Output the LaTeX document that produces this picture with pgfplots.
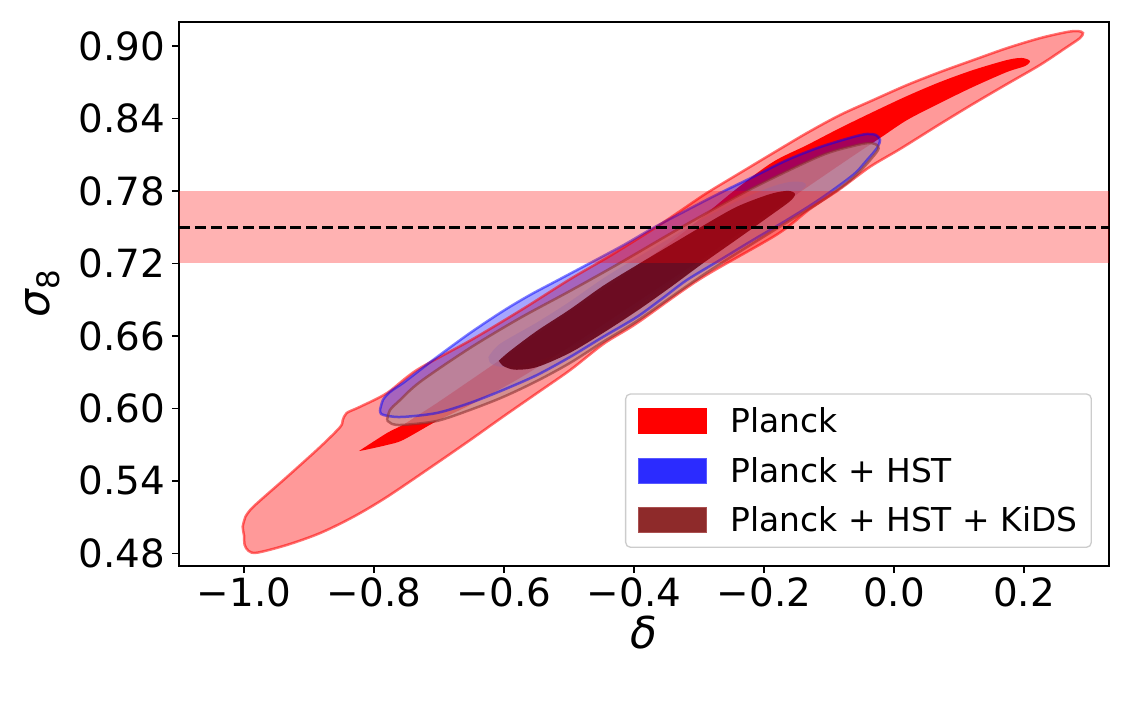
\documentclass[border=0pt]{standalone}
\usepackage{pgfplots}
\pgfplotsset{compat=1.18}
\usepackage{fontspec}
\setmainfont{DejaVu Sans}

\definecolor{kidsout}{RGB}{198,140,140}
\definecolor{kidsin}{RGB}{100,0,20}
\definecolor{kidsedge}{RGB}{140,50,50}
\definecolor{kidsleg}{RGB}{142,42,42}
\definecolor{kidslegedge}{RGB}{170,80,80}

\begin{document}
\begin{tikzpicture}
\path[use as bounding box] (0,0) rectangle (1132bp,703bp);
\begin{axis}[
  at={(179bp,137bp)}, anchor=south west,
  scale only axis, width=930bp, height=544bp,
  xmin=-1.1, xmax=0.3308, ymin=0.4695, ymax=0.9199,
  xtick={-1,-0.8,-0.6,-0.4,-0.2,0,0.2},
  xticklabels={−1.0,−0.8,−0.6,−0.4,−0.2,0.0,0.2},
  ytick={0.48,0.54,0.60,0.66,0.72,0.78,0.84,0.90},
  yticklabels={0.48,0.54,0.60,0.66,0.72,0.78,0.84,0.90},
  tick align=outside, xtick pos=bottom, ytick pos=left,
  major tick length=7bp,
  every tick/.style={black, line width=1.6bp},
  axis line style={line width=1.6bp},
  tick label style={font=\fontsize{39}{47}\selectfont},
  xticklabel style={inner sep=4bp},
  yticklabel style={inner sep=7bp},
  xlabel={\itshape δ},
  ylabel={{\itshape σ}\raisebox{-0.22em}{\fontsize{31}{31}\selectfont 8}},
  label style={font=\fontsize{44}{52}\selectfont},
  xlabel style={at={(axis description cs:0.5,-0.091)}, anchor=north, inner sep=0pt},
  ylabel style={at={(axis description cs:-0.128,0.5)}, anchor=south, inner sep=0pt},
  legend image code/.code={\filldraw[sharp corners, #1] (0bp,-12.5bp) rectangle (68bp,12.5bp);},
  legend style={
    at={(axis description cs:0.9817,0.0331)}, anchor=south east,
    draw=black!20, line width=1.3bp, rounded corners=5bp, fill=white,
    font=\fontsize{33}{40}\selectfont,
    inner xsep=12bp, inner ysep=12bp, row sep=19bp,
    nodes={inner sep=2bp},
    /tikz/every odd column/.append style={column sep=22bp},
  },
  legend cell align=left,
]

% ---------- filled regions ----------
% Planck, 95% region
\addplot[fill=red, fill opacity=0.4, draw=none, smooth, forget plot] coordinates {
(-0.998,0.510) (-1.002,0.502) (-1.000,0.495) (-0.999,0.487) (-0.993,0.482) (-0.980,0.4805)
(-0.934,0.4869) (-0.883,0.4967) (-0.832,0.5101) (-0.780,0.5267)
(-0.703,0.5548) (-0.652,0.5738) (-0.602,0.5929) (-0.549,0.6127) (-0.498,0.6318) (-0.446,0.6537)
(-0.395,0.6707) (-0.2985,0.7071) (-0.18,0.744) (-0.1292,0.7651) (-0.0831,0.7816) (-0.0369,0.8)
(0.0092,0.8147) (0.0708,0.8354) (0.1215,0.852) (0.1738,0.8685) (0.2246,0.8843) (0.2662,0.8992)
(0.2862,0.9066) (0.2908,0.9108)
(0.283,0.9124) (0.266,0.9116) (0.225,0.9066) (0.174,0.8983) (0.122,0.8884) (0.071,0.8785)
(0.020,0.8677) (-0.032,0.8553) (-0.083,0.8429) (-0.134,0.828) (-0.186,0.8114) (-0.237,0.7949)
(-0.288,0.7783) (-0.329,0.7634) (-0.368,0.7493) (-0.437,0.7262) (-0.498,0.7071) (-0.571,0.6823)
(-0.648,0.6574) (-0.734,0.6318) (-0.780,0.6127) (-0.822,0.6012) (-0.842,0.5962) (-0.848,0.5904)
(-0.852,0.5846) (-0.883,0.568) (-0.934,0.5432) (-0.986,0.5184) (-0.998,0.510)
} -- cycle;

% Planck, 68% region
\addplot[fill=red, draw=none, smooth, forget plot] coordinates {
(-0.8231,0.5647) (-0.78,0.5796) (-0.7554,0.5863) (-0.7292,0.5954) (-0.6985,0.6061) (-0.6062,0.6401)
(-0.5138,0.6748) (-0.4215,0.7079) (-0.3292,0.7435) (-0.2446,0.7808) (-0.1862,0.804) (-0.1338,0.818)
(-0.0831,0.8321) (-0.0323,0.8454) (0.02,0.8586) (0.0708,0.8702) (0.1215,0.8801) (0.1738,0.8884)
(0.1969,0.8901) (0.2092,0.8876) (0.2015,0.8834) (0.1738,0.8785) (0.1215,0.8661) (0.0708,0.8528)
(0.02,0.8387) (-0.0215,0.8238) (-0.0677,0.8073) (-0.1446,0.7791) (-0.2215,0.751) (-0.2985,0.7228)
(-0.3908,0.6897) (-0.4831,0.6566) (-0.5754,0.6252) (-0.6523,0.6028) (-0.7031,0.5896) (-0.7554,0.5738)
(-0.78,0.5697) (-0.8138,0.5656) (-0.8231,0.5647)
} -- cycle;

% Planck + HST, 95% region
\addplot[fill=blue, fill opacity=0.35, draw=none, smooth, forget plot] coordinates {
(-0.7908,0.5987) (-0.7862,0.607) (-0.7754,0.6136) (-0.7554,0.621) (-0.7292,0.6318) (-0.7031,0.6425)
(-0.6523,0.6624) (-0.6015,0.6806) (-0.56,0.6939) (-0.5138,0.7071) (-0.4215,0.7336) (-0.3708,0.7493)
(-0.3185,0.7642) (-0.2677,0.7783) (-0.2169,0.7916) (-0.1646,0.8056) (-0.1138,0.8164) (-0.0631,0.8247)
(-0.0415,0.8272) (-0.0277,0.8263) (-0.0215,0.8222)
(-0.026,0.8156) (-0.0415,0.8056) (-0.0631,0.7932) (-0.1138,0.7733) (-0.1646,0.756) (-0.2169,0.7394)
(-0.2677,0.7228) (-0.3185,0.7063) (-0.3554,0.6914) (-0.3954,0.6757) (-0.4477,0.6591) (-0.4985,0.6425)
(-0.5492,0.6276) (-0.6015,0.6152) (-0.6523,0.6045) (-0.7031,0.5962) (-0.7554,0.5929) (-0.7785,0.5937)
(-0.7892,0.5954) (-0.7908,0.5987)
} -- cycle;

% Planck + HST, 68% region
\addplot[fill=blue, fill opacity=0.3, draw=none, smooth, forget plot] coordinates {
(-0.624,0.6425) (-0.606,0.6535) (-0.5492,0.6712) (-0.4985,0.6885) (-0.4477,0.7075) (-0.3954,0.7248)
(-0.3446,0.741) (-0.2938,0.757) (-0.2415,0.7715) (-0.1908,0.783) (-0.16,0.7875) (-0.14,0.7872)
(-0.1354,0.7845) (-0.1446,0.7795) (-0.1646,0.771) (-0.2169,0.7535) (-0.2677,0.7335) (-0.3185,0.7135)
(-0.3708,0.694) (-0.4215,0.6745) (-0.4723,0.6575) (-0.5246,0.6435) (-0.5754,0.6355) (-0.6062,0.6345)
(-0.621,0.6375) (-0.624,0.6425)
} -- cycle;

% Planck + HST + KiDS, 95% region
\addplot[fill=kidsout, fill opacity=0.72, draw=none, smooth, forget plot] coordinates {
(-0.78,0.5904) (-0.7754,0.5987) (-0.7631,0.6053) (-0.7292,0.6219) (-0.6523,0.65) (-0.5754,0.6748)
(-0.4985,0.6972) (-0.4215,0.7204) (-0.3185,0.7526) (-0.2169,0.7825) (-0.1138,0.8089) (-0.0631,0.8172)
(-0.0369,0.8197) (-0.0246,0.8172)
(-0.0277,0.8114) (-0.0631,0.7907) (-0.1138,0.7709) (-0.1862,0.7469) (-0.2677,0.7195) (-0.3185,0.7013)
(-0.3954,0.6723) (-0.4477,0.655) (-0.4985,0.6376) (-0.5492,0.6227) (-0.6015,0.6094) (-0.6523,0.5987)
(-0.7031,0.5896) (-0.7554,0.5863) (-0.7723,0.5871) (-0.78,0.5904)
} -- cycle;

% Planck + HST + KiDS, 68% region
\addplot[fill=kidsin, fill opacity=0.88, draw=none, smooth, forget plot] coordinates {
(-0.608,0.6395) (-0.5908,0.6475) (-0.5492,0.6642) (-0.4985,0.682) (-0.4477,0.7014) (-0.3954,0.7187)
(-0.3446,0.735) (-0.2938,0.7512) (-0.2415,0.767) (-0.1908,0.7774) (-0.1631,0.7801) (-0.1523,0.7775)
(-0.16,0.7715) (-0.1908,0.7594) (-0.2415,0.74) (-0.2938,0.7202) (-0.3446,0.7) (-0.3954,0.6807)
(-0.4477,0.6624) (-0.4985,0.646) (-0.5492,0.6342) (-0.5831,0.632) (-0.6015,0.6352) (-0.608,0.6395)
} -- cycle;

% ---------- contour edges ----------
\addplot[draw=red, draw opacity=0.55, line width=2.5bp, smooth, forget plot] coordinates {
(-0.998,0.510) (-1.002,0.502) (-1.000,0.495) (-0.999,0.487) (-0.993,0.482) (-0.980,0.4805)
(-0.934,0.4869) (-0.883,0.4967) (-0.832,0.5101) (-0.780,0.5267)
(-0.703,0.5548) (-0.652,0.5738) (-0.602,0.5929) (-0.549,0.6127) (-0.498,0.6318) (-0.446,0.6537)
(-0.395,0.6707) (-0.2985,0.7071) (-0.18,0.744) (-0.1292,0.7651) (-0.0831,0.7816) (-0.0369,0.8)
(0.0092,0.8147) (0.0708,0.8354) (0.1215,0.852) (0.1738,0.8685) (0.2246,0.8843) (0.2662,0.8992)
(0.2862,0.9066) (0.2908,0.9108)
(0.283,0.9124) (0.266,0.9116) (0.225,0.9066) (0.174,0.8983) (0.122,0.8884) (0.071,0.8785)
(0.020,0.8677) (-0.032,0.8553) (-0.083,0.8429) (-0.134,0.828) (-0.186,0.8114) (-0.237,0.7949)
(-0.288,0.7783) (-0.329,0.7634) (-0.368,0.7493) (-0.437,0.7262) (-0.498,0.7071) (-0.571,0.6823)
(-0.648,0.6574) (-0.734,0.6318) (-0.780,0.6127) (-0.822,0.6012) (-0.842,0.5962) (-0.848,0.5904)
(-0.852,0.5846) (-0.883,0.568) (-0.934,0.5432) (-0.986,0.5184) (-0.998,0.510)
};
\addplot[draw=blue, draw opacity=0.5, line width=2.5bp, smooth, forget plot] coordinates {
(-0.7908,0.5987) (-0.7862,0.607) (-0.7754,0.6136) (-0.7554,0.621) (-0.7292,0.6318) (-0.7031,0.6425)
(-0.6523,0.6624) (-0.6015,0.6806) (-0.56,0.6939) (-0.5138,0.7071) (-0.4215,0.7336) (-0.3708,0.7493)
(-0.3185,0.7642) (-0.2677,0.7783) (-0.2169,0.7916) (-0.1646,0.8056) (-0.1138,0.8164) (-0.0631,0.8247)
(-0.0415,0.8272) (-0.0277,0.8263) (-0.0215,0.8222)
(-0.026,0.8156) (-0.0415,0.8056) (-0.0631,0.7932) (-0.1138,0.7733) (-0.1646,0.756) (-0.2169,0.7394)
(-0.2677,0.7228) (-0.3185,0.7063) (-0.3554,0.6914) (-0.3954,0.6757) (-0.4477,0.6591) (-0.4985,0.6425)
(-0.5492,0.6276) (-0.6015,0.6152) (-0.6523,0.6045) (-0.7031,0.5962) (-0.7554,0.5929) (-0.7785,0.5937)
(-0.7892,0.5954) (-0.7908,0.5987)
};
\addplot[draw=kidsedge, draw opacity=0.6, line width=2.5bp, smooth, forget plot] coordinates {
(-0.78,0.5904) (-0.7754,0.5987) (-0.7631,0.6053) (-0.7292,0.6219) (-0.6523,0.65) (-0.5754,0.6748)
(-0.4985,0.6972) (-0.4215,0.7204) (-0.3185,0.7526) (-0.2169,0.7825) (-0.1138,0.8089) (-0.0631,0.8172)
(-0.0369,0.8197) (-0.0246,0.8172)
(-0.0277,0.8114) (-0.0631,0.7907) (-0.1138,0.7709) (-0.1862,0.7469) (-0.2677,0.7195) (-0.3185,0.7013)
(-0.3954,0.6723) (-0.4477,0.655) (-0.4985,0.6376) (-0.5492,0.6227) (-0.6015,0.6094) (-0.6523,0.5987)
(-0.7031,0.5896) (-0.7554,0.5863) (-0.7723,0.5871) (-0.78,0.5904)
};

% ---------- prior band and its central value ----------
\addplot[fill=red, fill opacity=0.3, draw=none, forget plot] coordinates {
(-1.1,0.72) (0.3308,0.72) (0.3308,0.78) (-1.1,0.78)
} -- cycle;
\addplot[black, line width=3bp, dash pattern=on 11.1bp off 4.8bp, forget plot] coordinates {
(-1.1,0.75) (0.3308,0.75)
};

% ---------- legend ----------
\addlegendimage{fill=red, draw=red, line width=1.2bp}
\addlegendentry{Planck}
\addlegendimage{fill=blue!83, draw=blue!65, line width=1.2bp}
\addlegendentry{Planck + HST}
\addlegendimage{fill=kidsleg, draw=kidslegedge, line width=1.2bp}
\addlegendentry{Planck + HST + KiDS}

\end{axis}
\end{tikzpicture}
\end{document}
